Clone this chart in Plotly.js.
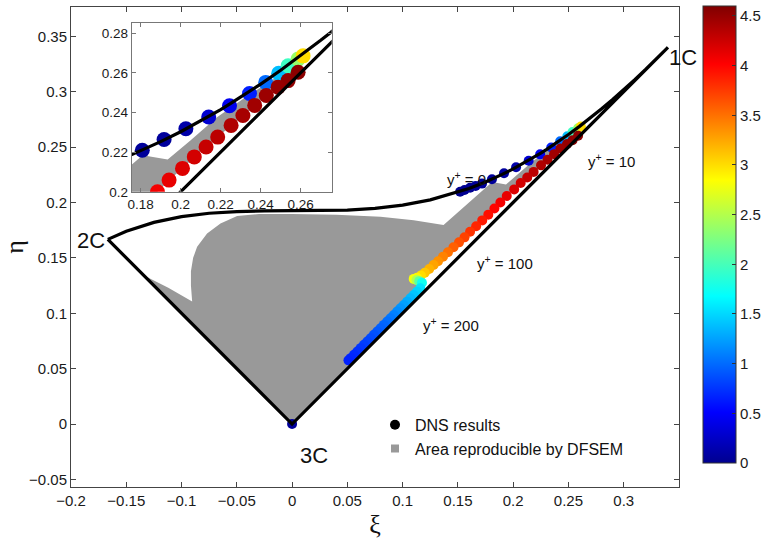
<!DOCTYPE html>
<html>
<head>
<meta charset="utf-8">
<script src="https://cdn.plot.ly/plotly-3.0.1.min.js"></script>
<style>html,body{margin:0;padding:0;background:#fff}#chart{width:765px;height:539px}</style>
</head>
<body>
<div id="chart"></div>
<script>
// Lumley triangle boundary: 2C -> 1C curve, then 1C -> 3C -> 2C lines
const xiBoundary = [-0.16667,-0.15,-0.125,-0.1,-0.075,-0.05,-0.025,0,0.025,0.05,0.075,0.1,0.125,0.15,0.16,0.175,0.18,0.19,0.2,0.21,0.22,0.225,0.23,0.24,0.25,0.26,0.27,0.275,0.28,0.29,0.3,0.31,0.32,0.33333,0.34,0,-0.16667];
const etaBoundary = [0.16667,0.17403,0.18202,0.18718,0.19025,0.19180,0.19237,0.19245,0.19253,0.19310,0.19463,0.19758,0.20234,0.20925,0.21267,0.21853,0.22068,0.22529,0.23030,0.23571,0.24150,0.24458,0.24773,0.25433,0.26132,0.26868,0.27641,0.28041,0.28450,0.29294,0.30172,0.31084,0.32027,0.33333,0.34005,0,0.16667];

// Area reproducible by DFSEM (outline)
const xiArea = [0,-0.134,-0.112,-0.0904,-0.0915,-0.0915,-0.0895,-0.0859,-0.0769,-0.0648,-0.0497,-0.03,0.0,0.04,0.08,0.11,0.137,0.16,0.181,0.1935,0.205,0.218,0.232,0.246,0.258,0.2625,
  0.2587,0.2537,0.2487,0.2428,0.2370,0.2311,0.2252,0.2185,0.2127,0.2068,0.2009,0.1942,0.1884,0.1830,0.1775,0.1720,0.1665,0.1610,0.1560,0.1510,0.1460,0.1410,0.1365,0.1320,0.1280,0.1240,0.1200,0.1165,0.1130,0.1100,0.1175,0.118,0];
const etaArea = [0,0.134,0.123,0.1106,0.125,0.138,0.150,0.160,0.172,0.181,0.1877,0.1895,0.1895,0.1890,0.1870,0.1840,0.1796,0.200,0.2185,0.2163,0.226,0.2375,0.2475,0.2565,0.2655,0.2665,
  0.2603,0.2561,0.2528,0.2486,0.2436,0.2385,0.2335,0.2276,0.2226,0.2176,0.2118,0.2059,0.2000,0.1945,0.1890,0.1838,0.1785,0.1735,0.1685,0.1640,0.1595,0.1550,0.1510,0.1470,0.1435,0.1400,0.1365,0.1340,0.1320,0.1310,0.1255,0.118,0];

// DNS results: xi, eta, colour value
const xiDNS = [0.1520,0.1560,0.1610,0.1660,0.1718,0.1808,0.1917,0.2026,0.2140,0.2244,0.2344,0.2425,0.2490,0.2537,0.2587,0.2612,
  0.2587,0.2537,0.2487,0.2428,0.2370,0.2311,0.2252,0.2185,0.2127,0.2068,0.2009,0.1942,0.1884,0.1830,0.1775,0.1720,0.1665,0.1610,0.1560,0.1510,0.1460,0.1410,0.1365,0.1320,0.1280,0.1240,0.1200,0.1165,0.1130,0.1100,
  0.1125,0.1150,0.1175,
  0.116,0.113,0.110,0.107,0.104,0.101,0.098,0.095,0.092,0.089,0.086,0.083,0.080,0.077,0.074,0.071,0.068,0.065,0.062,0.059,0.056,0.053,0.051,
  0.0];
const etaDNS = [0.2097,0.2112,0.2132,0.2148,0.2170,0.2210,0.2264,0.2318,0.2377,0.2434,0.2496,0.2552,0.2598,0.2636,0.2670,0.2686,
  0.2603,0.2561,0.2528,0.2486,0.2436,0.2385,0.2335,0.2276,0.2226,0.2176,0.2118,0.2059,0.2000,0.1945,0.1890,0.1838,0.1785,0.1735,0.1685,0.1640,0.1595,0.1550,0.1510,0.1470,0.1435,0.1400,0.1365,0.1340,0.1320,0.1310,
  0.1300,0.1290,0.1275,
  0.1225,0.1195,0.1165,0.1135,0.1105,0.1075,0.1045,0.1015,0.0985,0.0955,0.0925,0.0895,0.0865,0.0835,0.0805,0.0775,0.0745,0.0715,0.0685,0.0655,0.0625,0.0595,0.0575,
  0.0];
const valDNS = [0.0,0.01,0.02,0.03,0.04,0.05,0.06,0.12,0.3,0.44,0.65,1.0,1.38,1.96,2.37,3.0,
  4.55,4.52,4.5,4.47,4.45,4.42,4.38,4.33,4.28,4.22,4.17,4.12,4.06,4.0,3.95,3.9,3.85,3.78,3.72,3.65,3.58,3.5,3.42,3.35,3.27,3.2,3.1,3.0,2.9,2.8,
  2.5,2.1,1.75,
  1.55,1.48,1.42,1.36,1.3,1.25,1.2,1.15,1.1,1.06,1.02,0.98,0.95,0.92,0.88,0.85,0.82,0.79,0.76,0.73,0.7,0.68,0.66,
  0.05];

const xTickVals = [-0.2,-0.15,-0.1,-0.05,0,0.05,0.1,0.15,0.2,0.25,0.3];
const xTickText = ['\u22120.2','\u22120.15','\u22120.1','\u22120.05','0','0.05','0.1','0.15','0.2','0.25','0.3'];
const yTickVals = [-0.05,0,0.05,0.1,0.15,0.2,0.25,0.3,0.35];
const yTickText = ['\u22120.05','0','0.05','0.1','0.15','0.2','0.25','0.3','0.35'];
const insetXTickVals = [0.18,0.2,0.22,0.24,0.26];
const insetXTickText = ['0.18','0.2','0.22','0.24','0.26'];
const insetYTickVals = [0.2,0.22,0.24,0.26,0.28];
const insetYTickText = ['0.2','0.22','0.24','0.26','0.28'];

const cornerLabels = ['1C','2C','3C'];
const cornerXi = [0.339, -0.167, 0.020];
const cornerEta = [0.331, 0.1655, -0.028];
const yplusLabels = ['y<sup>+</sup> = 0','y<sup>+</sup> = 10','y<sup>+</sup> = 100','y<sup>+</sup> = 200'];
const yplusXi = [0.1576, 0.2887, 0.1929, 0.1440];
const yplusEta = [0.222, 0.2381, 0.1454, 0.0895];

const cbTicks = [0,0.5,1,1.5,2,2.5,3,3.5,4,4.5];
const cbTickText = ['0','0.5','1','1.5','2','2.5','3','3.5','4','4.5'];

const jet = [[0,'rgb(0,0,143)'],[0.111,'rgb(0,0,255)'],[0.365,'rgb(0,255,255)'],[0.619,'rgb(255,255,0)'],[0.873,'rgb(255,0,0)'],[1,'rgb(128,0,0)']];
const GRAY = '#999999';

const traces = [
  {x: xiArea, y: etaArea, xaxis:'x', yaxis:'y', type:'scatter', mode:'lines', fill:'toself', fillcolor:GRAY, line:{width:0,color:GRAY}, showlegend:false, hoverinfo:'skip'},
  {x: xiDNS, y: etaDNS, xaxis:'x', yaxis:'y', type:'scatter', mode:'markers', showlegend:false,
   marker:{size:10, color: valDNS, colorscale: jet, cmin:0, cmax:4.6, line:{width:0},
     showscale:true,
     colorbar:{x:1.04, xanchor:'left', xpad:0, ypad:0, y:0.05, yanchor:'bottom', len:0.953, lenmode:'fraction', thickness:33, thicknessmode:'pixels',
       outlinecolor:'#333', outlinewidth:1, ticks:'inside', ticklen:4, tickcolor:'#333', tickvals: cbTicks, ticktext: cbTickText,
       tickfont:{size:15, color:'#1a1a1a'}}}},
  {x: xiBoundary, y: etaBoundary, xaxis:'x', yaxis:'y', type:'scatter', mode:'lines', line:{color:'#000', width:3.2}, showlegend:false, hoverinfo:'skip'},
  {x: xiArea, y: etaArea, xaxis:'x2', yaxis:'y2', type:'scatter', mode:'lines', fill:'toself', fillcolor:GRAY, line:{width:0,color:GRAY}, showlegend:false, hoverinfo:'skip'},
  {x: xiDNS, y: etaDNS, xaxis:'x2', yaxis:'y2', type:'scatter', mode:'markers', showlegend:false,
   marker:{size:15, color: valDNS, colorscale: jet, cmin:0, cmax:4.6, showscale:false, line:{width:0}}},
  {x: xiBoundary, y: etaBoundary, xaxis:'x2', yaxis:'y2', type:'scatter', mode:'lines', line:{color:'#000', width:3.2}, showlegend:false, hoverinfo:'skip'},
  {x:[null], y:[null], type:'scatter', mode:'markers', name:'DNS results', marker:{color:'#000', size:10, symbol:'circle'}, showlegend:true, legendgroup:'a'},
  {x:[null], y:[null], type:'scatter', mode:'markers', name:'Area reproducible by DFSEM', marker:{color:GRAY, size:8, symbol:'square'}, showlegend:true, legendgroup:'b'}
];

const axisCommon = {showgrid:false, zeroline:false, showline:true, linecolor:'#444', linewidth:1, mirror:'ticks', ticks:'inside', ticklen:5, tickcolor:'#444', tickfont:{size:15, color:'#1a1a1a'}};

const annotations = [];
for (let i=0;i<cornerLabels.length;i++){
  annotations.push({x:cornerXi[i], y:cornerEta[i], xref:'x', yref:'y', text:cornerLabels[i], showarrow:false,
    xanchor: i===0?'left':(i===1?'right':'center'), yanchor:'middle', font:{size:22, color:'#111'}});
}
for (let i=0;i<yplusLabels.length;i++){
  annotations.push({x:yplusXi[i], y:yplusEta[i], xref:'x', yref:'y', text:yplusLabels[i], showarrow:false,
    xanchor:'center', yanchor:'middle', font:{size:15, color:'#111'}});
}

const layout = {
  width:765, height:539,
  margin:{l:71, r:86, t:7, b:52, autoexpand:false},
  paper_bgcolor:'#fff', plot_bgcolor:'#fff',
  font:{family:'Liberation Sans, Arial, sans-serif', color:'#1a1a1a'},
  xaxis: Object.assign({}, axisCommon, {range:[-0.2,0.35], tickmode:'array', tickvals:xTickVals, ticktext:xTickText, domain:[0,1], anchor:'y',
     title:{text:'ξ', font:{size:26, family:'Liberation Serif, serif', color:'#111'}, standoff:6}}),
  yaxis: Object.assign({}, axisCommon, {range:[-0.0568,0.3764], tickmode:'array', tickvals:yTickVals, ticktext:yTickText, domain:[0,1], anchor:'x',
     title:{text:'η', font:{size:26, family:'Liberation Serif, serif', color:'#111'}, standoff:10}}),
  xaxis2: Object.assign({}, axisCommon, {range:[0.1755,0.2755], tickmode:'array', tickvals:insetXTickVals, ticktext:insetXTickText, domain:[0.0998,0.4288], anchor:'y2', linecolor:'#777', tickcolor:'#777', ticklen:4, tickfont:{size:13.5,color:'#1a1a1a'}}),
  yaxis2: Object.assign({}, axisCommon, {range:[0.2,0.285], tickmode:'array', tickvals:insetYTickVals, ticktext:insetYTickText, domain:[0.615,0.966], anchor:'x2', linecolor:'#777', tickcolor:'#777', ticklen:4, tickfont:{size:13.5,color:'#1a1a1a'}}),
  showlegend:true,
  legend:{x:0.5, xanchor:'left', y:0.165, yanchor:'top', bgcolor:'rgba(0,0,0,0)', borderwidth:0, font:{size:16, color:'#111'}, traceorder:'grouped', tracegroupgap:0, itemwidth:30},
  annotations: annotations
};

Plotly.newPlot('chart', traces, layout, {staticPlot:true, displayModeBar:false});
</script>
</body>
</html>
